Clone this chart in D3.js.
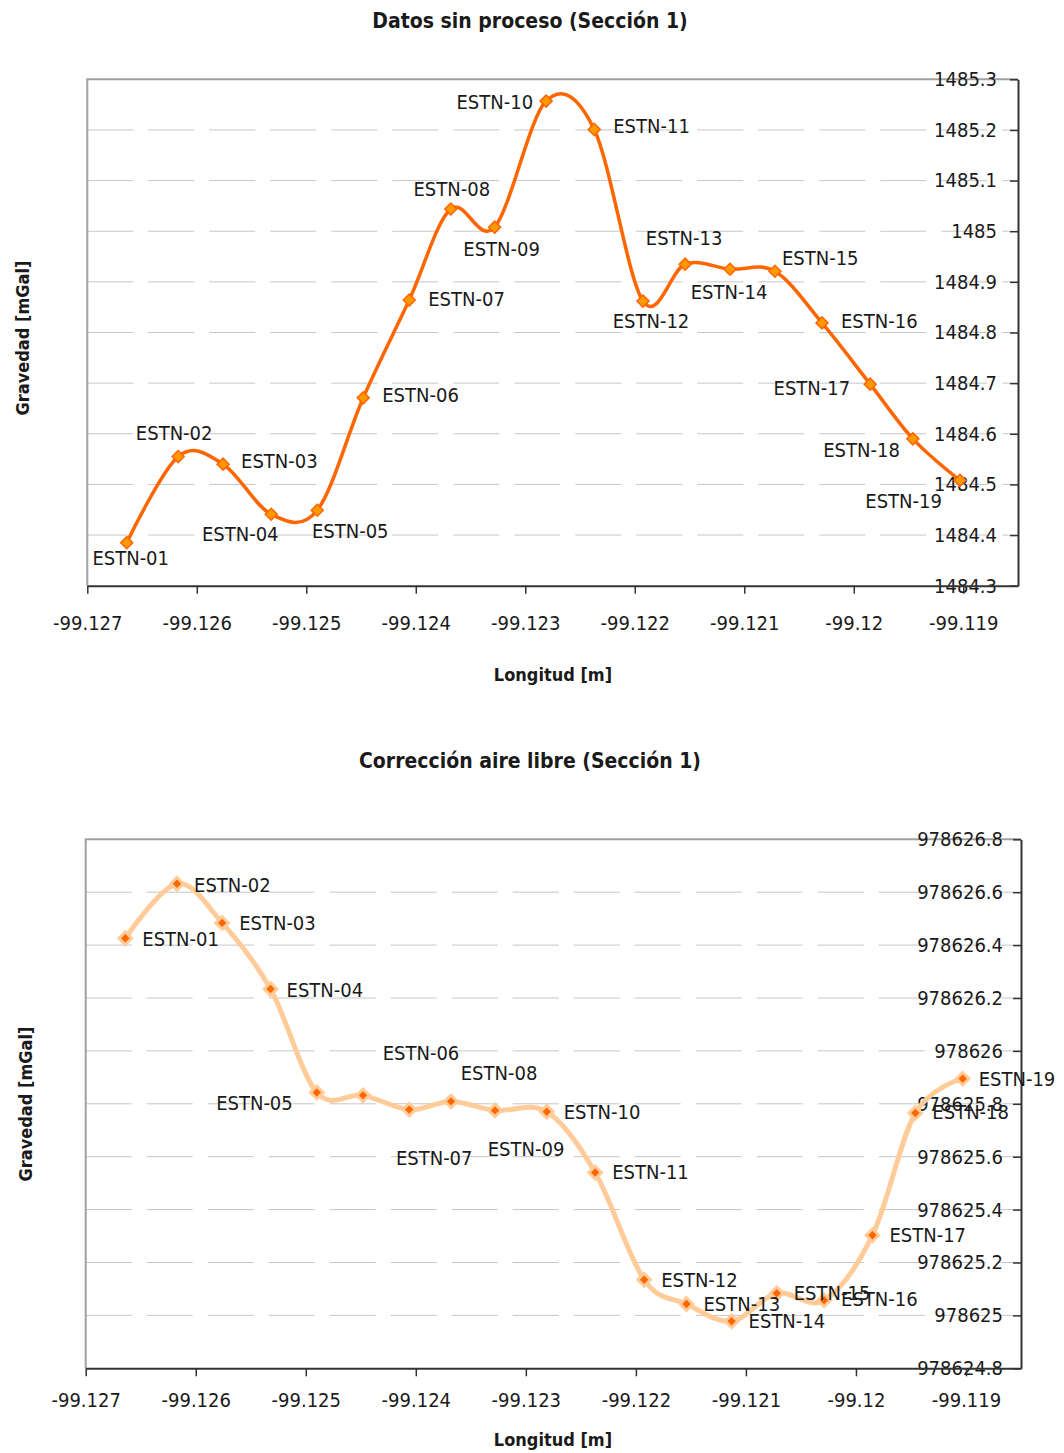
<!DOCTYPE html>
<html>
<head>
<meta charset="utf-8">
<script src="https://cdnjs.cloudflare.com/ajax/libs/d3/7.8.5/d3.min.js"></script>
<style>
  html, body { margin: 0; padding: 0; background: #fff; }
  svg { display: block; }
  text { font-family: "Liberation Sans Narrow", "Arial Narrow", "DejaVu Sans Condensed", sans-serif; fill: #1a1a1a; }
</style>
</head>
<body>
<svg id="chart" width="1064" height="1453"></svg>
<script>
// Stations along section 1
const stations = ["ESTN-01","ESTN-02","ESTN-03","ESTN-04","ESTN-05","ESTN-06","ESTN-07","ESTN-08","ESTN-09","ESTN-10",
                  "ESTN-11","ESTN-12","ESTN-13","ESTN-14","ESTN-15","ESTN-16","ESTN-17","ESTN-18","ESTN-19"];
// Longitude of each station
const longitud = [-99.12664,-99.12617,-99.12576,-99.12532,-99.12490,-99.12448,-99.12406,-99.12368,-99.12328,-99.12281,
                  -99.12237,-99.121925,-99.12154,-99.12113,-99.12072,-99.12029,-99.11985,-99.11946,-99.11903];
// Raw gravity readings [mGal]
const gravedadCruda = [1484.385,1484.555,1484.540,1484.441,1484.449,1484.671,1484.864,1485.044,1485.008,1485.257,
                       1485.201,1484.862,1484.935,1484.925,1484.921,1484.819,1484.698,1484.590,1484.508];
// Free-air corrected gravity [mGal]
const gravedadAireLibre = [978626.426,978626.632,978626.484,978626.234,978625.843,978625.832,978625.778,978625.809,978625.775,978625.770,
                           978625.540,978625.135,978625.043,978624.978,978625.084,978625.057,978625.303,978625.765,978625.895];

// Axis ticks
const xTicks = [-99.127,-99.126,-99.125,-99.124,-99.123,-99.122,-99.121,-99.12,-99.119];
const yTicks1 = [1484.3,1484.4,1484.5,1484.6,1484.7,1484.8,1484.9,1485,1485.1,1485.2,1485.3];
const yTicks2 = [978624.8,978625,978625.2,978625.4,978625.6,978625.8,978626,978626.2,978626.4,978626.6,978626.8];

// Label placement for each station: [dx, dy, anchor]
const labelPos1 = [[4,22,"middle"],[-4,-17,"middle"],[18,4,"start"],[-31,27,"middle"],[33,28,"middle"],
                   [19,4,"start"],[19,6,"start"],[1,-13,"middle"],[7,29,"middle"],[-13,8,"end"],
                   [19,4,"start"],[8,27,"middle"],[-1,-19,"middle"],[-1,30,"middle"],[7,-6,"start"],
                   [19,5,"start"],[-20,11,"end"],[-13,18,"end"],[-18,28,"end"]];
const labelPos2 = [[17,8,"start"],[17,8,"start"],[17,7,"start"],[16,8,"start"],[-24,18,"end"],
                   [58,-35,"middle"],[25,55,"middle"],[48,-21,"middle"],[31,46,"middle"],[17,7,"start"],
                   [17,6,"start"],[17,7,"start"],[17,7,"start"],[17,7,"start"],[17,7,"start"],
                   [17,6,"start"],[17,7,"start"],[17,6,"start"],[16,7,"start"]];

const svg = d3.select("#chart");
const fmt = d => String(+d.toFixed(3));
const FONT = '"Liberation Sans Narrow", "Arial Narrow", "DejaVu Sans Condensed", sans-serif';
const LABEL_SIZE = 20;

function drawChart(cfg) {
  const g = svg.append("g");
  const x = d3.scaleLinear().domain([-99.127, -99.1185]).range([cfg.left, cfg.right]);
  const y = d3.scaleLinear().domain(cfg.yDomain).range([cfg.bottom, cfg.top]);

  // dashed horizontal gridlines
  g.append("g").selectAll("line")
    .data(cfg.yTicks.slice(1, -1))
    .join("line")
    .attr("x1", cfg.left).attr("x2", cfg.right)
    .attr("y1", d => y(d)).attr("y2", d => y(d))
    .attr("stroke", "#c6c6c6").attr("stroke-width", 1)
    .attr("stroke-dasharray", "46,15");

  // plot frame: left and top edges
  g.append("path")
    .attr("d", `M${cfg.left},${cfg.bottom}V${cfg.top}H${cfg.right}`)
    .attr("fill", "none").attr("stroke", "#a0a0a0").attr("stroke-width", 2);

  // value axis drawn on the right, labels inside the plot
  const yAxis = g.append("g")
    .attr("transform", `translate(${cfg.right},0)`)
    .call(d3.axisLeft(y).tickValues(cfg.yTicks).tickFormat(fmt).tickSizeInner(8).tickSizeOuter(0).tickPadding(cfg.yPad));
  yAxis.select(".domain").attr("stroke", "#333").attr("stroke-width", 2);
  yAxis.selectAll(".tick line").attr("stroke", "#333").attr("stroke-width", 1.5);
  yAxis.selectAll("text").attr("font-size", LABEL_SIZE).attr("fill", "#1a1a1a").style("font-family", FONT);

  // longitude axis
  const xAxis = g.append("g")
    .attr("transform", `translate(0,${cfg.bottom})`)
    .call(d3.axisBottom(x).tickValues(xTicks).tickFormat(fmt).tickSizeInner(8).tickSizeOuter(0).tickPadding(cfg.xPad));
  xAxis.select(".domain").attr("stroke", "#333").attr("stroke-width", 2);
  xAxis.selectAll(".tick line").attr("stroke", "#333").attr("stroke-width", 1.5);
  xAxis.selectAll("text").attr("font-size", LABEL_SIZE).attr("fill", "#1a1a1a").style("font-family", FONT);

  const pts = longitud.map((lon, i) => ({ lon, val: cfg.values[i], name: stations[i], pos: cfg.labels[i] }));

  // smoothed profile line
  const line = d3.line().x(d => x(d.lon)).y(d => y(d.val)).curve(d3.curveCatmullRom.alpha(0));
  g.append("path").datum(pts)
    .attr("d", line)
    .attr("fill", "none")
    .attr("stroke", cfg.lineColor).attr("stroke-width", cfg.lineWidth)
    .attr("stroke-linejoin", "round");

  // diamond markers
  const diamond = d3.symbol().type(d3.symbolSquare).size(cfg.markerSize);
  g.append("g").selectAll("path")
    .data(pts)
    .join("path")
    .attr("d", diamond)
    .attr("transform", d => `translate(${x(d.lon)},${y(d.val)}) rotate(45)`)
    .attr("fill", cfg.markerFill)
    .attr("stroke", cfg.markerStroke).attr("stroke-width", cfg.markerStrokeWidth);

  // station labels
  g.append("g").selectAll("text")
    .data(pts)
    .join("text")
    .attr("x", d => x(d.lon) + d.pos[0])
    .attr("y", d => y(d.val) + d.pos[1])
    .attr("text-anchor", d => d.pos[2])
    .attr("font-size", LABEL_SIZE)
    .text(d => d.name);

  // titles
  svg.append("text")
    .attr("x", cfg.titleX).attr("y", cfg.titleY)
    .attr("text-anchor", "middle").attr("font-size", 21).attr("font-weight", "bold")
    .text(cfg.title);
  svg.append("text")
    .attr("x", 553).attr("y", cfg.xTitleY)
    .attr("text-anchor", "middle").attr("font-size", 18).attr("font-weight", "bold")
    .text("Longitud [m]");
  svg.append("text")
    .attr("transform", `translate(${cfg.yTitleX},${cfg.yTitleY}) rotate(-90)`)
    .attr("text-anchor", "middle").attr("font-size", 18).attr("font-weight", "bold")
    .text("Gravedad [mGal]");
}

drawChart({
  title: "Datos sin proceso (Sección 1)", titleX: 530, titleY: 28,
  xTitleY: 681, yTitleX: 29, yTitleY: 338,
  left: 87.3, right: 1018, top: 79.3, bottom: 585.7,
  yDomain: [1484.3, 1485.3], yTicks: yTicks1, values: gravedadCruda, labels: labelPos1,
  yPad: 13, xPad: 22,
  lineColor: "#ff6600", lineWidth: 3.5,
  markerSize: 72, markerFill: "#ff9900", markerStroke: "#ff6600", markerStrokeWidth: 1.5
});

drawChart({
  title: "Corrección aire libre (Sección 1)", titleX: 530, titleY: 768,
  xTitleY: 1446, yTitleX: 32, yTitleY: 1104,
  left: 85.7, right: 1021, top: 839.3, bottom: 1368.3,
  yDomain: [978624.8, 978626.8], yTicks: yTicks2, values: gravedadAireLibre, labels: labelPos2,
  yPad: 10, xPad: 17,
  lineColor: "#ffcc99", lineWidth: 5,
  markerSize: 80, markerFill: "#ff6600", markerStroke: "#ffcc99", markerStrokeWidth: 3
});
</script>
</body>
</html>
